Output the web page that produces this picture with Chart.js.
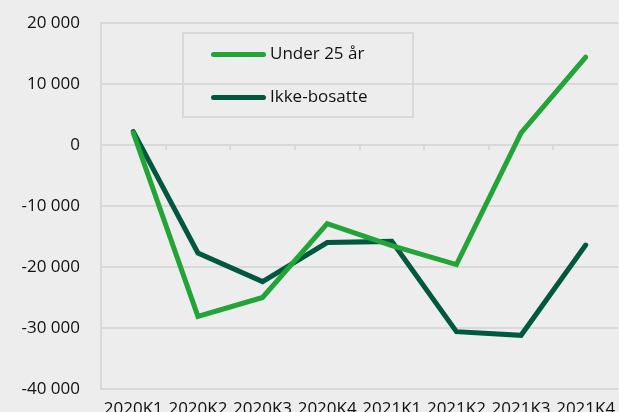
<!DOCTYPE html>
<html>
<head>
<meta charset="utf-8">
<script src="https://cdn.jsdelivr.net/npm/chart.js@4"></script>
<style>
  html, body { margin: 0; padding: 0; background: #ededed; }
  #wrap { position: relative; width: 619px; height: 412px; }
  #legend {
    position: absolute; left: 182px; top: 32px; width: 228px; height: 82px;
    border: 2px solid #d9d9d9; font-family: "Open Sans", sans-serif; font-size: 17px; color: #111;
  }
  .item { position: absolute; left: 27px; height: 24px; line-height: 24px; white-space: nowrap; }
  .swatch { display: inline-block; width: 55px; height: 5px; border-radius: 3px; vertical-align: middle; margin-right: 4px; }
</style>
</head>
<body>
<div id="wrap">
  <canvas id="chart" width="619" height="412"></canvas>
  <div id="legend"></div>
</div>
<script>
var labels = ['2020K1', '2020K2', '2020K3', '2020K4', '2021K1', '2021K2', '2021K3', '2021K4'];
var under25 = [2000, -28100, -25000, -12900, -16500, -19600, 2000, 14400];
var ikkeBosatte = [2200, -17700, -22400, -16000, -15800, -30600, -31200, -16400];
var seriesNames = ['Under 25 år', 'Ikke-bosatte'];

var lightGreen = '#22a437';
var darkGreen = '#00583f';
var gridColor = '#d9d9d9';

function fmt(v) {
    var s = Math.abs(v).toString().replace(/\B(?=(\d{3})+(?!\d))/g, ' ');
    return (v < 0 ? '-' : '') + s;
}

// small tick marks on the zero line, between categories
var zeroTicks = {
    id: 'zeroTicks',
    afterDraw: function (chart) {
        var x = chart.scales.x, y = chart.scales.y, ctx = chart.ctx;
        var y0 = y.getPixelForValue(0);
        var half = (x.getPixelForTick(1) - x.getPixelForTick(0)) / 2;
        ctx.save();
        ctx.strokeStyle = gridColor;
        ctx.lineWidth = 2;
        for (var i = 1; i < labels.length; i++) {
            var px = Math.round(x.getPixelForTick(i) - half);
            ctx.beginPath();
            ctx.moveTo(px, y0);
            ctx.lineTo(px, y0 + 5);
            ctx.stroke();
        }
        ctx.restore();
    }
};

var ctx = document.getElementById('chart').getContext('2d');
var chart = new Chart(ctx, {
    type: 'line',
    data: {
        labels: labels,
        datasets: [{
            label: seriesNames[0],
            data: under25,
            borderColor: lightGreen,
            borderWidth: 5,
            pointRadius: 0,
            tension: 0,
            borderCapStyle: 'round',
            borderJoinStyle: 'miter'
        }, {
            label: seriesNames[1],
            data: ikkeBosatte,
            borderColor: darkGreen,
            borderWidth: 5,
            pointRadius: 0,
            tension: 0,
            borderCapStyle: 'round',
            borderJoinStyle: 'miter'
        }]
    },
    options: {
        responsive: false,
        animation: false,
        layout: { padding: { top: 23, right: 1, left: 0, bottom: 0 } },
        plugins: { legend: { display: false }, tooltip: { enabled: false } },
        scales: {
            x: {
                offset: true,
                grid: { display: false },
                border: { display: false },
                ticks: {
                    color: '#111', padding: 2, maxRotation: 0, autoSkip: false,
                    font: { family: 'Open Sans', size: 17 }
                },
                afterFit: function (s) { s.height = 23; s.paddingLeft = 0; s.paddingRight = 0; }
            },
            y: {
                min: -40000, max: 20000,
                grid: { color: gridColor, lineWidth: 2, drawTicks: false },
                border: { color: gridColor, width: 2 },
                ticks: {
                    stepSize: 10000, padding: 21, color: '#111',
                    font: { family: 'Open Sans', size: 17 },
                    callback: function (v) { return fmt(v); }
                },
                afterFit: function (s) { s.width = 101; s.paddingTop = 0; s.paddingBottom = 0; }
            }
        }
    },
    plugins: [zeroTicks]
});

var legend = document.getElementById('legend');
var colors = [lightGreen, darkGreen];
var tops = [7, 50];
seriesNames.forEach(function (name, i) {
    var d = document.createElement('div');
    d.className = 'item';
    d.style.top = tops[i] + 'px';
    d.innerHTML = '<span class="swatch" style="background:' + colors[i] + '"></span>' + name;
    legend.appendChild(d);
});
</script>
</body>
</html>
